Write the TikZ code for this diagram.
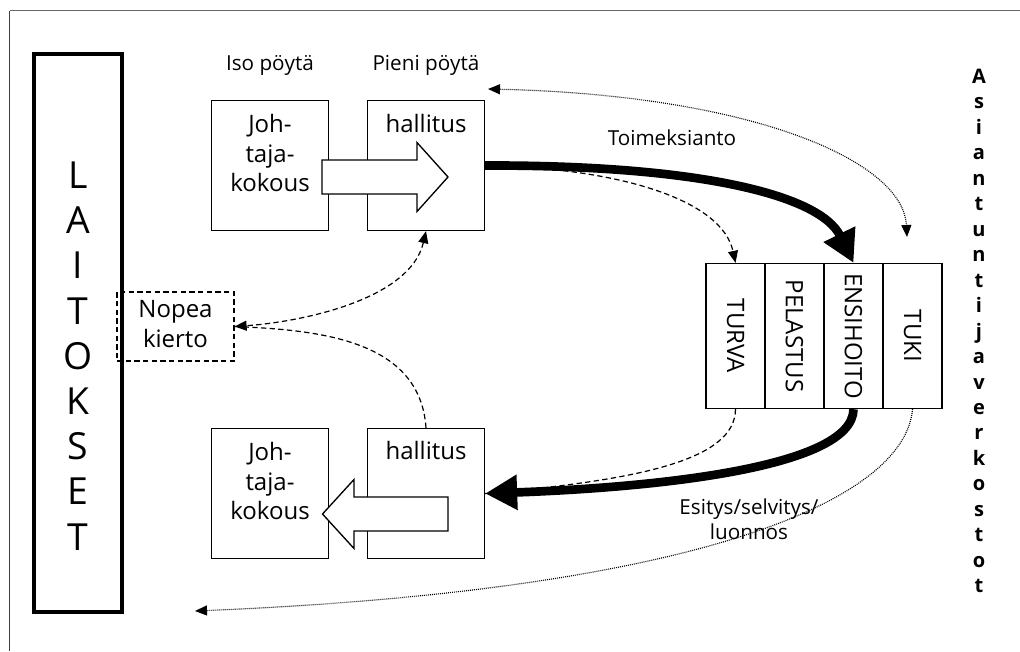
\documentclass[tikz,border=0pt]{standalone}
\usepackage{fontspec}
\setmainfont{Open Sans}
\usetikzlibrary{arrows.meta,calc}
\begin{document}
\begin{tikzpicture}[x=0.75pt,y=-0.75pt,
  box/.style={draw, line width=1pt, minimum width=87.75pt, minimum height=97.5pt, inner sep=0pt},
  boxtext/.style={font=\fontsize{18}{22}\selectfont, align=center, inner sep=0pt},
  col/.style={draw, line width=1pt, minimum width=44.25pt, minimum height=108.75pt, inner sep=0pt},
  coltext/.style={font=\fontsize{18}{22}\selectfont, rotate=-90, inner sep=0pt},
  lbl/.style={font=\fontsize{15.5}{18.75}\selectfont, inner sep=0pt, align=center},
  hollow/.style={draw, fill=white, line width=1pt, line join=miter},
  thickarrow/.style={line width=6.5pt, -{Triangle[length=24pt,width=25pt]}},
  dashedc/.style={line width=0.9pt, dash pattern=on 4pt off 2.5pt},
  dottedc/.style={line width=0.85pt, dash pattern=on 0.7pt off 0.8pt},
  sa/.style={-{Triangle[length=9pt,width=7.5pt]}},
  dsa/.style={{Triangle[length=9pt,width=7.5pt]}-{Triangle[length=9pt,width=7.5pt]}}
]
\useasboundingbox (0,0) rectangle (1020,651);
% frame
\draw[black!60, line width=1pt] (9.5,10.5) -- (1020,10.5);
\draw[black!75, line width=1pt] (9.5,10.5) -- (9.5,651);

% LAITOKSET
\node[draw, line width=3pt, minimum width=66pt, minimum height=418.5pt, inner sep=0pt] (lait) at (78,333) {};
\node[font=\fontsize{28}{33.9}\selectfont, align=center, inner sep=0pt] (laitText) at (78,356) {L\\A\\I\\T\\O\\K\\S\\E\\T};

% header labels
\node[lbl, anchor=base] (iso) at (270,70) {Iso pöytä};
\node[lbl, anchor=base] (pieni) at (426,70) {Pieni pöytä};

% top boxes
\node[box] (jk1) at (270,165.5) {};
\node[box] (hal1) at (426,165.5) {};
\node[boxtext] (jk1t) at (270,153) {Joh-\\taja-\\kokous};
\node[boxtext] (hal1t) at (426,123) {hallitus};
\draw[hollow] (322,160) -- (417,160) -- (417,142.5) -- (448,177) -- (417,211.5) -- (417,194) -- (322,194) -- cycle;

% bottom boxes
\node[box] (jk2) at (270,493.5) {};
\node[box] (hal2) at (426,493.5) {};
\node[boxtext] (jk2t) at (270,481) {Joh-\\taja-\\kokous};
\node[boxtext] (hal2t) at (426,450.5) {hallitus};
\draw[hollow] (448,497) -- (354,497) -- (354,479.5) -- (322.5,514) -- (354,548.5) -- (354,531) -- (448,531) -- cycle;

% Nopea kierto
\node[draw, dashedc, minimum width=87.75pt, minimum height=51.75pt, inner sep=0pt] (nopea) at (175.5,326.5) {};
\node[boxtext] (nopeat) at (175.5,324) {Nopea\\kierto};

% columns
\node[col] (turva) at (735.5,336) {};
\node[col] (pelastus) at (794.5,336) {};
\node[col] (ensihoito) at (853.5,336) {};
\node[col] (tuki) at (912.5,336) {};
\node[coltext] at (turva) {TURVA};
\node[coltext] at (pelastus) {PELASTUS};
\node[coltext] at (ensihoito) {ENSIHOITO};
\node[coltext] at (tuki) {TUKI};

% right vertical text
\node[font=\fontsize{15}{19.1}\selectfont\bfseries, align=center, inner sep=0pt] (asi) at (979,331)
  {A\\s\\i\\a\\n\\t\\u\\n\\t\\i\\j\\a\\v\\e\\r\\k\\o\\s\\t\\o\\t};

% labels
\node[lbl, anchor=base] (toim) at (672,145) {Toimeksianto};
\node[lbl] (esitys) at (749,519.5) {Esitys/selvitys/\\luonnos};

% dashed connectors under thick arrows
\draw[dashedc, sa] (hal1.east) .. controls (620,168) and (722,200) .. (turva.north);
\draw[dashedc] (turva.south) .. controls (735,460) and (640,480) .. (hal2.east);

% thick arrows
\draw[thickarrow] (hal1.east) .. controls (700,165) and (820,195) .. (ensihoito.north);
\draw[thickarrow] (ensihoito.south) .. controls (853,470) and (640,488) .. (hal2.east);

% dotted connectors
\coordinate (dotL) at (488,89);
\coordinate (dotR) at (907,237);
\coordinate (dotB) at (195,611);
\draw[dottedc, dsa] (dotL) .. controls (750,95) and (903,160) .. (dotR);
\draw[dottedc, sa] (tuki.south) .. controls (905,500) and (700,590) .. (dotB);

% Nopea kierto connectors
\draw[dashedc, dsa] (hal1.south) .. controls (410,300) and (300,322) .. (nopea.east);
\draw[dashedc] (hal2.north) .. controls (420,340) and (320,330) .. (nopea.east);
\end{tikzpicture}
\end{document}
